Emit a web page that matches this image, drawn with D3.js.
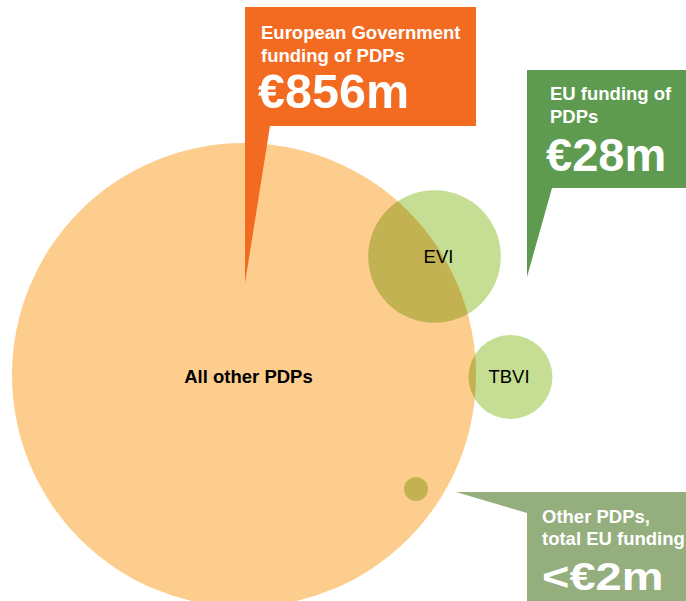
<!DOCTYPE html>
<html>
<head>
<meta charset="utf-8">
<script src="https://cdn.jsdelivr.net/npm/d3@7"></script>
<style>
  body { margin: 0; background: #fff; }
  svg { display: block; font-family: "Liberation Sans", Arial, sans-serif; }
</style>
</head>
<body>
<div id="chart"></div>
<script>
// funding in €m per bubble
const names = ["All other PDPs", "EVI", "TBVI", ""];
const values = [856, 70, 28, 2.3];
const groups = ["gov", "eu", "eu", "eu"];

// callout texts
const calloutLines = [
    ["European Government", "funding of PDPs"],
    ["EU funding of", "PDPs"],
    ["Other PDPs,", "total EU funding"]
];
const calloutValues = ["€856m", "€28m", "<€2m"];

const width = 686, height = 601;

// bubble placement (layout, px) and label nudges
const centres = [[244, 375], [434.5, 256.5], [510.5, 377], [416, 489]];
const labelShift = [[4.5, 8], [4, 6], [-1.5, 5.5], [0, 0]];

const r = d3.scaleSqrt().domain([0, 856]).range([0, 232]);
const fill = d3.scaleOrdinal().domain(["gov", "eu"]).range(["#fdcd8d", "#c5de93"]);

const svg = d3.select("#chart").append("svg")
    .attr("width", width)
    .attr("height", height);

const bubbles = svg.append("g").style("isolation", "isolate");

bubbles.selectAll("circle")
    .data(values)
    .join("circle")
    .attr("cx", (d, i) => centres[i][0])
    .attr("cy", (d, i) => centres[i][1])
    .attr("r", d => r(d))
    .attr("fill", (d, i) => fill(groups[i]))
    .style("mix-blend-mode", (d, i) => i ? "multiply" : null);

svg.append("g").selectAll("text")
    .data(names)
    .join("text")
    .attr("x", (d, i) => centres[i][0] + labelShift[i][0])
    .attr("y", (d, i) => centres[i][1] + labelShift[i][1])
    .attr("text-anchor", "middle")
    .attr("font-size", 18.5)
    .attr("font-weight", (d, i) => i === 0 ? "bold" : "normal")
    .attr("fill", "#000")
    .text(d => d);

// callout boxes: box + pointer
const callouts = [
    { box: [245, 7, 231, 119], tail: [[245, 126], [270, 126], [245, 283]], color: "#f26b21", tx: 261, ty: [38.5, 61.5], vx: 258, vy: 108, vs: 48.5, sy: 1 },
    { box: [527, 70, 159, 118], tail: [[527, 188], [552, 188], [527, 277]], color: "#5e9a4f", tx: 550, ty: [100, 123], vx: 546, vy: 171, vs: 47, sy: 1 },
    { box: [527, 492, 159, 109], tail: [[527, 492], [456, 492], [527, 513]], color: "#95ae7e", tx: 542, ty: [523, 544.5], vx: 542, vy: 590, vs: 47, sy: 0.84 }
];

const cg = svg.selectAll(".callout")
    .data(callouts)
    .join("g")
    .attr("class", "callout");

cg.append("rect")
    .attr("x", d => d.box[0])
    .attr("y", d => d.box[1])
    .attr("width", d => d.box[2])
    .attr("height", d => d.box[3])
    .attr("fill", d => d.color);

cg.append("path")
    .attr("d", d => d3.line()(d.tail) + "Z")
    .attr("fill", d => d.color);

cg.each(function(d, i) {
    const g = d3.select(this);
    calloutLines[i].forEach((line, j) => {
        g.append("text")
            .attr("x", d.tx)
            .attr("y", d.ty[j])
            .attr("fill", "#fff")
            .attr("font-size", 18.5)
            .attr("font-weight", "bold")
            .text(line);
    });
    g.append("text")
        .attr("transform", "translate(" + d.vx + "," + d.vy + ") scale(1," + d.sy + ")")
        .attr("fill", "#fff")
        .attr("font-size", d.vs)
        .attr("font-weight", "bold")
        .text(calloutValues[i]);
});
</script>
</body>
</html>
